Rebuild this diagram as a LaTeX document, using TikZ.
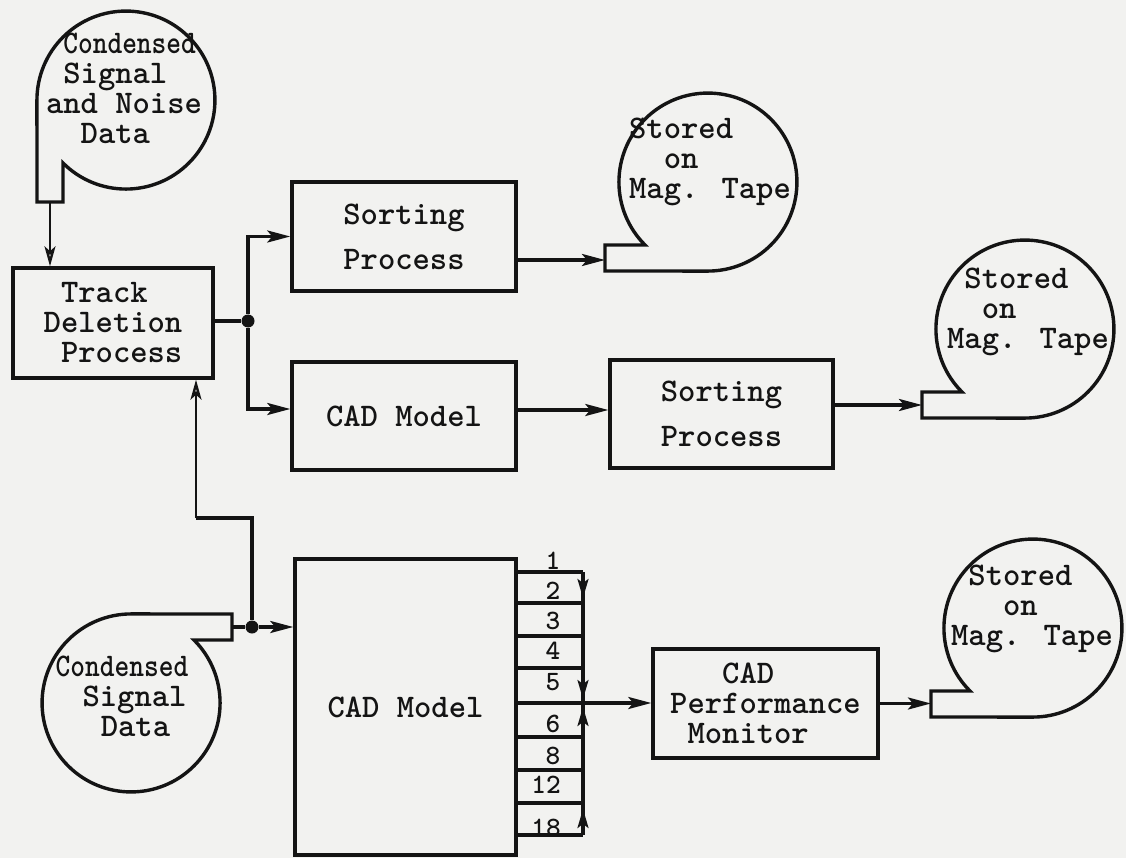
\documentclass[tikz,border=0pt]{standalone}
\usepackage{fontspec}
\usepackage{graphicx}
\usetikzlibrary{arrows.meta,calc}
\definecolor{paper}{RGB}{242,242,240}
\definecolor{ink}{RGB}{20,20,20}
\newcommand{\tw}{\ttfamily\bfseries}
\newcommand{\ch}[1]{\hspace*{#1\dimexpr0.525em\relax}}
\tikzset{
  ln/.style={line width=3.4pt, draw=ink},
  box/.style={ln, draw, inner sep=0pt, align=left, text=ink, font=\tw\fontsize{33}{30}\selectfont},
  txt/.style={inner sep=0pt, align=left, text=ink, font=\tw\fontsize{33}{30}\selectfont},
  num/.style={inner sep=0pt, text=ink, font=\tw\fontsize{28}{28}\selectfont},
  arr/.style={ln, -{Stealth[length=23pt,width=12pt,inset=5pt]}},
  oarr/.style={line width=2.4pt, draw=ink, -{Stealth[open,length=20pt,width=11pt,inset=5pt]}},
  busarr/.style={line width=2.8pt, draw=ink, -{Stealth[length=19pt,width=11pt,inset=4pt]}},
  tape/.style={ln, line join=miter},
  jdot/.style={circle, fill=ink, inner sep=0pt, minimum size=13pt}
}
\newcommand{\cnd}{\scalebox{0.85}[1]{Condensed}}
\begin{document}
\begin{tikzpicture}[x=1pt,y=-1pt]
\fill[paper] (0,0) rectangle (1126,858);
\useasboundingbox (0,0) rectangle (1126,858);

% ---- boxes
\node[box,minimum width=200pt,minimum height=110pt] (track) at (113,323)
  {\ch{1}Track\\Deletion\\\ch{1}Process};
\node[box,minimum width=224pt,minimum height=109pt] (sort1) at (404,236.5)
  {Sorting\\[15pt]Process};
\node[box,minimum width=224pt,minimum height=108pt] (cad1) at (404,416)
  {CAD Model};
\node[box,minimum width=223pt,minimum height=108pt] (sort2) at (721.5,414)
  {Sorting\\[15pt]Process};
\node[box,minimum width=225pt,minimum height=109pt] (mon) at (765.5,703.5)
  {\ch{3}CAD\\Performance\\\ch{1}Monitor};
\node[box,minimum width=221pt,minimum height=296pt] (cad2) at (405.5,707)
  {CAD Model};

% ---- tapes
% A: top-left, tail down from left side
\draw[tape] (63,202) -- (63,163) arc[start angle=135,end angle=-180,radius=89] -- (37,202) -- cycle;
\coordinate (tA) at (50,202);
\node[txt] (tapeA) at (124,88)
  {\ch{1}\cnd\\\ch{1}Signal\\and Noise\\\ch{2}Data};
% B: top middle, tail left from bottom
\draw[tape] (645,245) arc[start angle=135,end angle=450,radius=89] -- (605,271) -- (605,245) -- cycle;
\coordinate (tB) at (605,260);
\node[txt] (tapeB) at (710,162) {Stored\\\ch{2}on\\Mag. Tape};
% C: right middle
\draw[tape] (962,392) arc[start angle=135,end angle=450,radius=89] -- (922,418) -- (922,392) -- cycle;
\coordinate (tC) at (922,405);
\node[txt] (tapeC) at (1028,312) {\ch{1}Stored\\\ch{2}on\\Mag. Tape};
% D: bottom right
\draw[tape] (970,691) arc[start angle=135,end angle=450,radius=89] -- (931,717) -- (931,691) -- cycle;
\coordinate (tD) at (931,703.5);
\node[txt] (tapeD) at (1032,609) {\ch{1}Stored\\\ch{3}on\\Mag. Tape};
% E: bottom left, tail right from top
\draw[tape] (194,640) arc[start angle=-45,end angle=270,radius=89] -- (232,614) -- (232,640) -- cycle;
\coordinate (tE) at (232,627);
\node[txt] (tapeE) at (122,696) {\cnd\\\ch{1.55}Signal\\\ch{2.6}Data};

% ---- junctions
\node[jdot] (j1) at (248,321) {};
\node[jdot] (j2) at (252,627) {};

% ---- connectors
\draw[oarr] (tA) -- (tA |- track.north);
\draw[ln] (track.east |- j1) -- (j1);
\draw[arr] (j1) -- (j1 |- sort1.west) -- (sort1.west);
\draw[arr] (j1) -- (j1 |- 0,409) -- (cad1.west |- 0,409);
\draw[arr] (sort1.east |- tB) -- (tB);
\draw[arr] (cad1.east |- 0,410) -- (sort2.west |- 0,410);
\draw[arr] (sort2.east |- tC) -- (tC);
\draw[ln] (tE) -- (j2);
\draw[arr] (j2) -- (cad2.west |- j2);
\coordinate (up) at (196,518);
\draw[ln] (j2) -- (j2 |- up) -- (up);
\draw[oarr] (up) -- (up |- track.south);

% ---- output slots of the lower CAD model
\foreach \i/\yy in {1/572,2/603,3/636,4/668,5/703,6/737,7/770,8/803,9/835}{
  \coordinate (s\i) at (583,\yy);
  \draw[ln] (cad2.east |- s\i) -- (s\i);
}
\draw[ln] (s1) -- (s9);
\draw[busarr] (583,575) -- (583,598);
\draw[busarr] (583,674) -- (583,699);
\draw[busarr] (583,732) -- (583,707);
\draw[busarr] (583,832) -- (583,809);
\draw[arr] (s5) -- (mon.west |- s5);
\draw[arr] (mon.east |- tD) -- (tD);

\node[num] (n1) at (553,561) {1};
\node[num] (n2) at (553,591) {2};
\node[num] (n3) at (553,621) {3};
\node[num] (n4) at (553,651) {4};
\node[num] (n5) at (553,682) {5};
\node[num] (n6) at (553,724) {6};
\node[num] (n8) at (553,756) {8};
\node[num] (n12) at (546,785) {12};
\node[num] (n18) at (546,828) {18};
\end{tikzpicture}
\end{document}
